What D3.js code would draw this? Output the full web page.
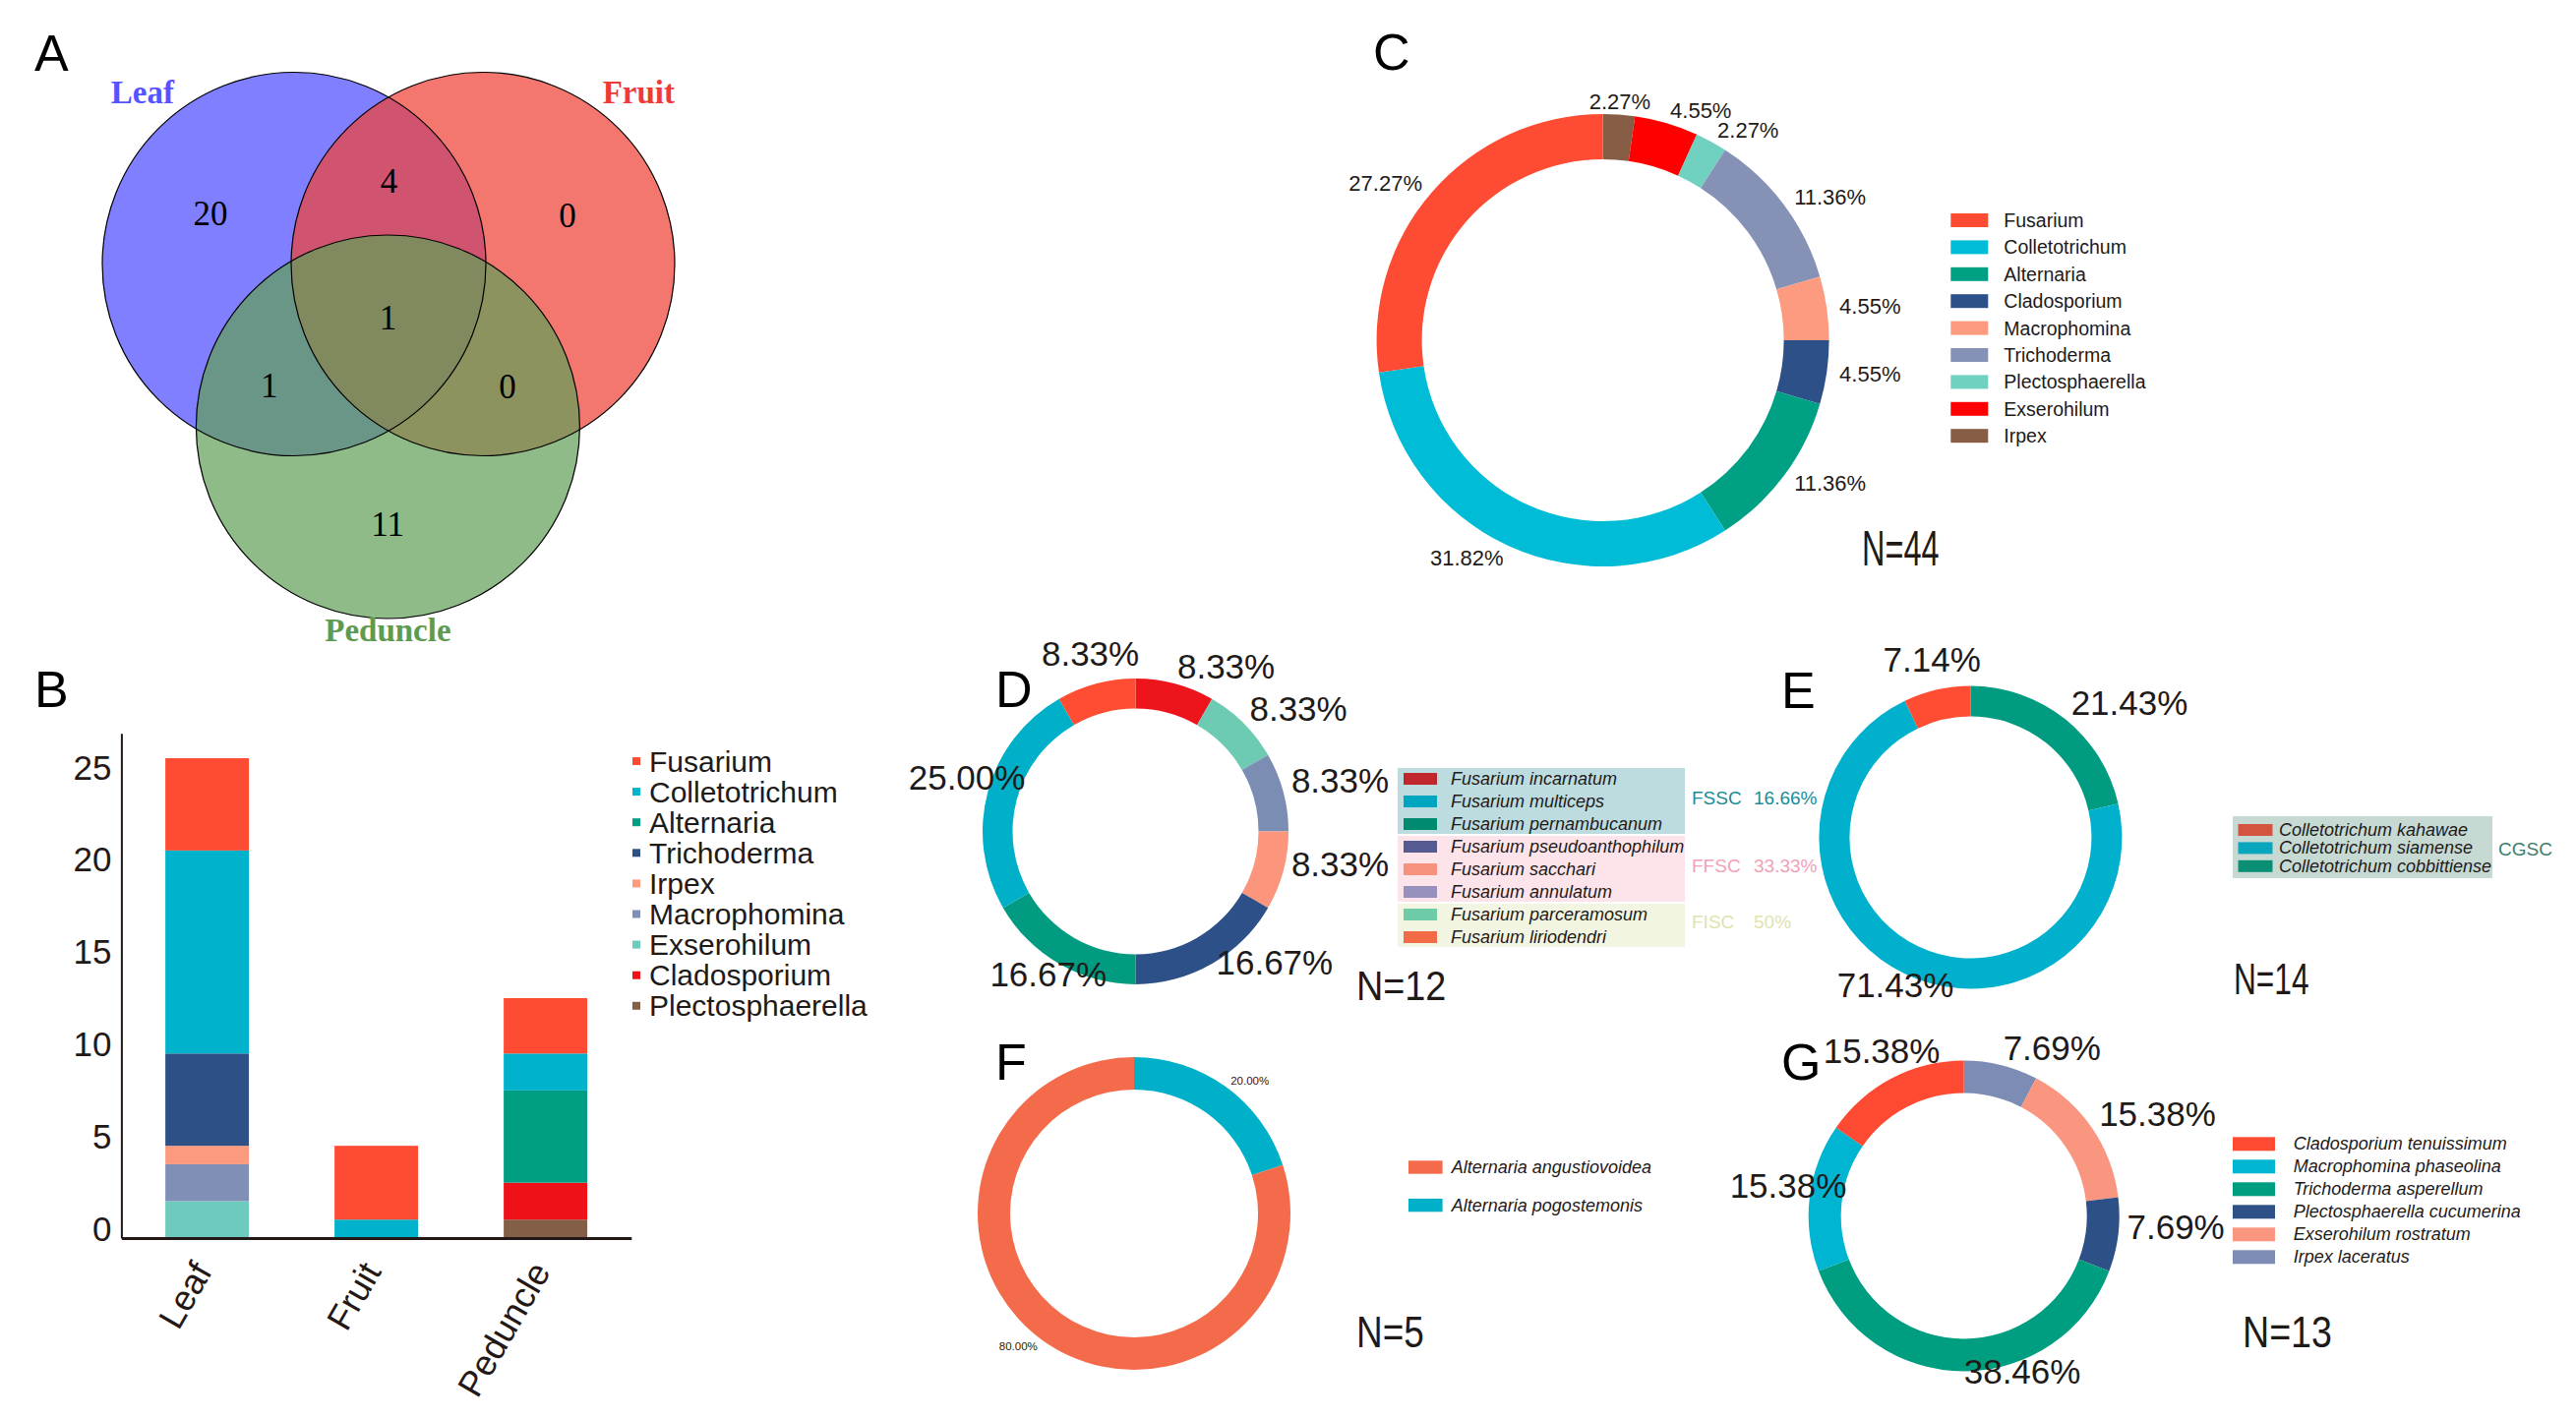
<!DOCTYPE html>
<html><head><meta charset="utf-8">
<script src="https://cdn.jsdelivr.net/npm/d3@7"></script>
<style>
html,body{margin:0;padding:0;background:#fff;}
svg{display:block;}
text{font-family:"Liberation Sans",Arial,Helvetica,sans-serif;fill:#1e1a18;}
</style></head><body>
<svg id="chart" width="2619" height="1443"></svg>
<script>
// ======================= DATA =======================
// Panel A – Venn diagram
const vennSets = ["Leaf", "Fruit", "Peduncle"];
const vennRegions = [["Leaf"], ["Fruit"], ["Peduncle"], ["Leaf","Fruit"], ["Leaf","Peduncle"], ["Fruit","Peduncle"], ["Leaf","Fruit","Peduncle"]];
const vennCounts = [20, 0, 11, 4, 1, 0, 1];

// Panel B – stacked bars (counts per tissue: Leaf, Fruit, Peduncle)
const tissues = ["Leaf", "Fruit", "Peduncle"];
const generaB = ["Fusarium","Colletotrichum","Alternaria","Trichoderma","Irpex","Macrophomina","Exserohilum","Cladosporium","Plectosphaerella"];
const fusariumCounts        = [5, 4, 3];
const colletotrichumCounts  = [11, 1, 2];
const alternariaCounts      = [0, 0, 5];
const trichodermaCounts     = [5, 0, 0];
const irpexCounts           = [1, 0, 0];
const macrophominaCounts    = [2, 0, 0];
const exserohilumCounts     = [2, 0, 0];
const cladosporiumCounts    = [0, 0, 2];
const plectosphaerellaCounts= [0, 0, 1];
const yTicksB = [0, 5, 10, 15, 20, 25];

// Panel C – all genera (ring order, clockwise from top)
const ringC = ["Irpex","Exserohilum","Plectosphaerella","Trichoderma","Macrophomina","Cladosporium","Alternaria","Colletotrichum","Fusarium"];
const countsC = [1, 2, 1, 5, 2, 2, 5, 14, 12];
const legendC = ["Fusarium","Colletotrichum","Alternaria","Cladosporium","Macrophomina","Trichoderma","Plectosphaerella","Exserohilum","Irpex"];

// Panel D – Fusarium species
const ringD = ["Fusarium incarnatum","Fusarium parceramosum","Fusarium annulatum","Fusarium sacchari","Fusarium pseudoanthophilum","Fusarium pernambucanum","Fusarium multiceps","Fusarium liriodendri"];
const countsD = [1, 1, 1, 1, 2, 2, 3, 1];
const legendD = ["Fusarium incarnatum","Fusarium multiceps","Fusarium pernambucanum","Fusarium pseudoanthophilum","Fusarium sacchari","Fusarium annulatum","Fusarium parceramosum","Fusarium liriodendri"];
const complexesD = ["FSSC","FFSC","FISC"];
const complexPctD = ["16.66%","33.33%","50%"];
const complexRowsD = [[0,1,2],[3,4,5],[6,7]];

// Panel E – Colletotrichum species
const ringE = ["Colletotrichum cobbittiense","Colletotrichum siamense","Colletotrichum kahawae"];
const countsE = [3, 10, 1];
const legendE = ["Colletotrichum kahawae","Colletotrichum siamense","Colletotrichum cobbittiense"];
const complexE = "CGSC";

// Panel F – Alternaria species
const ringF = ["Alternaria pogostemonis","Alternaria angustiovoidea"];
const countsF = [1, 4];
const legendF = ["Alternaria angustiovoidea","Alternaria pogostemonis"];

// Panel G – other species
const ringG = ["Irpex laceratus","Exserohilum rostratum","Plectosphaerella cucumerina","Trichoderma asperellum","Macrophomina phaseolina","Cladosporium tenuissimum"];
const countsG = [1, 2, 1, 5, 2, 2];
const legendG = ["Cladosporium tenuissimum","Macrophomina phaseolina","Trichoderma asperellum","Plectosphaerella cucumerina","Exserohilum rostratum","Irpex laceratus"];

// ======================= STYLES =======================
const paletteB = ["#fe4b33","#00b2cb","#009e82","#2d5086","#fc9a80","#7f8fb5","#6ccbbc","#ee1218","#845f48"];
const paletteC = ["#fe4b33","#00bcd6","#00a085","#2e5089","#fc9b80","#8592b6","#70d1c0","#ff0000","#875d45"];
const ringColorD = {"Fusarium incarnatum":"#ee141c","Fusarium parceramosum":"#6dcbb4","Fusarium annulatum":"#7c8db4","Fusarium sacchari":"#fb967c","Fusarium pseudoanthophilum":"#2c5087","Fusarium pernambucanum":"#009b80","Fusarium multiceps":"#00b0c8","Fusarium liriodendri":"#ff4d33"};
const legendColorD = ["#c0272d","#00a6c0","#008b70","#555b90","#f7937c","#9890bd","#6ecba7","#f26a46"];
const complexFillD = ["#bddcdf","#fde4ea","#f2f5e2"];
const complexTextD = ["#1a8c98","#f4a0b6","#dfe3ad"];
const ringColorE = {"Colletotrichum kahawae":"#ff4d33","Colletotrichum siamense":"#00b0cc","Colletotrichum cobbittiense":"#009b80"};
const legendColorE = ["#d4553f","#0aa6bd","#0b8f74"];
const colorF = {"Alternaria angustiovoidea":"#f36b4a","Alternaria pogostemonis":"#00b0c8"};
const colorG = {"Cladosporium tenuissimum":"#fe4a33","Macrophomina phaseolina":"#00b5d1","Trichoderma asperellum":"#009e80","Plectosphaerella cucumerina":"#2d5087","Exserohilum rostratum":"#fa9580","Irpex laceratus":"#7c8cb4"};

const svg = d3.select("#chart");
svg.append("rect").attr("width",2619).attr("height",1443).attr("fill","#fff");

function panelLetter(t, x, y){
  svg.append("text").attr("x",x).attr("y",y).attr("font-size",52).text(t).style("fill","#000");
}

// ======================= A: VENN =======================
(function(){
  const R = 195;
  const circles = [{cx:299, cy:268.5},{cx:491, cy:268.5},{cx:394.4, cy:434}];
  const fills = ["#0000ff","rgb(240,66,55)","rgb(97,159,87)"];
  const ops = [0.5, 0.72, 0.71];
  const g = svg.append("g");
  g.selectAll("circle.f").data(circles).join("circle")
    .attr("cx",d=>d.cx).attr("cy",d=>d.cy).attr("r",R)
    .attr("fill",(d,i)=>fills[i]).attr("fill-opacity",(d,i)=>ops[i]);
  g.selectAll("circle.s").data(circles).join("circle")
    .attr("cx",d=>d.cx).attr("cy",d=>d.cy).attr("r",R)
    .attr("fill","none").attr("stroke","#000").attr("stroke-width",1.2);
  // region label = blend of centroid and pole of inaccessibility (grid sampling)
  const acc = vennRegions.map(()=>({x:0,y:0,n:0,best:-1,bx:0,by:0}));
  for(let x=90;x<=700;x+=2){
    for(let y=60;y<=640;y+=2){
      const d = circles.map(c=>Math.hypot(x-c.cx,y-c.cy));
      const m = d.map(v=>v<=R);
      if(!m.some(Boolean)) continue;
      const key = vennSets.filter((s,i)=>m[i]).join("&");
      const idx = vennRegions.findIndex(r=>r.join("&")===key);
      const a = acc[idx];
      a.x+=x; a.y+=y; a.n++;
      const clear = d3.min(d, v=>Math.abs(v-R));
      if(clear>a.best){a.best=clear; a.bx=x; a.by=y;}
    }
  }
  const lx = i=>0.5*(acc[i].x/acc[i].n)+0.5*acc[i].bx;
  const ly = i=>0.5*(acc[i].y/acc[i].n)+0.5*acc[i].by;
  g.selectAll("text.n").data(vennCounts).join("text")
    .attr("x",(d,i)=>lx(i)).attr("y",(d,i)=>ly(i))
    .attr("text-anchor","middle").attr("dominant-baseline","central")
    .style("font-family","'Liberation Serif','Times New Roman',serif").attr("font-size",35)
    .style("fill","#000").text(d=>d);
  const labelCols = ["#5555ff","#ee3b36","#5e9b4f"];
  const lp = [
    {x:circles[0].cx-122, y:circles[0].cy-R+31, a:"end"},
    {x:circles[1].cx+R, y:circles[1].cy-R+31, a:"end"},
    {x:circles[2].cx, y:circles[2].cy+R+23, a:"middle"}];
  g.selectAll("text.l").data(vennSets).join("text")
    .attr("x",(d,i)=>lp[i].x).attr("y",(d,i)=>lp[i].y).attr("text-anchor",(d,i)=>lp[i].a)
    .style("font-family","'Liberation Serif','Times New Roman',serif").style("font-weight","bold")
    .attr("font-size",33).style("fill",(d,i)=>labelCols[i]).text(d=>d);
  panelLetter("A", 35, 72);
})();

// ======================= B: STACKED BARS =======================
(function(){
  const countsB = [fusariumCounts,colletotrichumCounts,alternariaCounts,trichodermaCounts,irpexCounts,macrophominaCounts,exserohilumCounts,cladosporiumCounts,plectosphaerellaCounts];
  const table = tissues.map((t,i)=>{const o={tissue:t}; generaB.forEach((gn,j)=>o[gn]=countsB[j][i]); return o;});
  const color = d3.scaleOrdinal().domain(generaB).range(paletteB);
  const x = d3.scaleBand().domain(tissues).range([123.4,641.8]).paddingInner(0.506).paddingOuter(0.26);
  const y = d3.scaleLinear().domain([0,27.35]).range([1259,745.7]);
  const series = d3.stack().keys(generaB.slice().reverse())(table);
  const g = svg.append("g");
  g.selectAll("g.s").data(series).join("g").attr("fill",d=>color(d.key))
    .selectAll("rect").data(d=>d).join("rect")
    .attr("x",d=>x(d.data.tissue)).attr("width",x.bandwidth())
    .attr("y",d=>y(d[1])).attr("height",d=>y(d[0])-y(d[1]));
  const ya = g.append("g").attr("transform","translate(123.4,0)")
    .call(d3.axisLeft(y).tickValues(yTicksB).tickSize(0).tickSizeOuter(0).tickPadding(10));
  ya.select(".domain").attr("stroke","#231815").attr("stroke-width",2);
  ya.selectAll("text").attr("font-size",35).attr("transform","translate(0,-9)")
    .style("font-family","'Liberation Sans',Arial,sans-serif").style("fill","#231815");
  const xa = g.append("g").attr("transform","translate(0,1259)")
    .call(d3.axisBottom(x).tickSize(0).tickSizeOuter(0));
  xa.select(".domain").attr("stroke","#231815").attr("stroke-width",3);
  xa.selectAll("text").attr("font-size",36).attr("text-anchor","end").attr("dy",0).attr("y",0)
    .attr("transform","translate(6,34) rotate(-60)")
    .style("font-family","'Liberation Sans',Arial,sans-serif").style("fill","#231815");
  // legend
  const lg = g.append("g");
  const rows = lg.selectAll("g").data(generaB).join("g").attr("transform",(d,i)=>`translate(643,${774+i*31.1})`);
  rows.append("rect").attr("x",0).attr("y",-4).attr("width",8).attr("height",8).attr("fill",d=>color(d));
  rows.append("text").attr("x",17).attr("y",0).attr("dominant-baseline","central").attr("font-size",30).text(d=>d);
  panelLetter("B", 35, 719);
})();

// ======================= DONUT HELPER =======================
function donut(cfg){
  const g = svg.append("g").attr("transform",`translate(${cfg.cx},${cfg.cy})`);
  const data = cfg.names.map((n,i)=>({name:n, v:cfg.counts[i]}));
  const total = d3.sum(cfg.counts);
  const arcs = d3.pie().sort(null).value(d=>d.v)(data);
  const arc = d3.arc().innerRadius(cfg.r).outerRadius(cfg.R);
  g.selectAll("path").data(arcs).join("path").attr("d",arc).attr("fill",d=>cfg.color(d.data.name));
  const pos = arcs.map(a=>{
    const mid=(a.startAngle+a.endAngle)/2, s=Math.sin(mid), c=Math.cos(mid);
    let anchor, rad;
    if(c>0.99){anchor="middle"; rad=cfg.R+cfg.gap;}
    else if(s>-1e-6){anchor="start"; rad=cfg.R+cfg.gap;}
    else {anchor=cfg.leftAnchor; rad = anchor==="middle"? cfg.R+cfg.midGap : cfg.R+cfg.gap;}
    return {x:rad*s, y:-rad*c+cfg.labelDy, anchor};
  });
  g.selectAll("text.p").data(arcs).join("text")
    .attr("x",(d,i)=>pos[i].x).attr("y",(d,i)=>pos[i].y).attr("text-anchor",(d,i)=>pos[i].anchor)
    .attr("dominant-baseline","central").attr("font-size",cfg.fontSize)
    .text(d=>(d.data.v/total*100).toFixed(2)+"%");
  // N label
  svg.append("text").attr("transform",`translate(${cfg.nx},${cfg.ny}) scale(${cfg.nsx},1)`)
    .attr("dominant-baseline","central").attr("font-size",cfg.nSize).text("N="+total);
}
function legend(cfg){
  const g = svg.append("g");
  const rows = g.selectAll("g").data(cfg.names).join("g").attr("transform",(d,i)=>`translate(${cfg.x},${cfg.y0+i*cfg.step})`);
  rows.append("rect").attr("x",0).attr("y",-cfg.h/2).attr("width",cfg.w).attr("height",cfg.h).attr("fill",(d,i)=>cfg.color(d,i));
  rows.append("text").attr("x",cfg.tx).attr("y",0).attr("dominant-baseline","central").attr("font-size",cfg.fs)
    .style("font-style",cfg.italic?"italic":"normal").text(d=>d);
}

// ======================= C =======================
(function(){
  const color = d3.scaleOrdinal().domain(legendC).range(paletteC);
  donut({cx:1629.6, cy:346, R:230, r:184, names:ringC, counts:countsC, color,
    gap:13, midGap:22, leftAnchor:"end", labelDy:0, fontSize:22,
    nx:1893, ny:558, nSize:50, nsx:0.65});
  legend({names:legendC, x:1983.3, y0:224, step:27.4, w:38, h:14, tx:54, fs:19.5, color:d=>color(d)});
  panelLetter("C", 1396, 71);
})();

// ======================= D =======================
(function(){
  donut({cx:1154.5, cy:845.4, R:155.5, r:125, names:ringD, counts:countsD, color:n=>ringColorD[n],
    gap:8.5, midGap:22, leftAnchor:"middle", labelDy:-9, fontSize:35,
    nx:1379, ny:1002.6, nSize:42, nsx:0.9});
  const y0=792, step=23;
  const gb = svg.append("g");
  gb.selectAll("rect").data(complexRowsD).join("rect")
    .attr("x",1421).attr("width",292)
    .attr("y",d=>y0+d[0]*step-11).attr("height",d=>(d[d.length-1]-d[0])*step+21)
    .attr("fill",(d,i)=>complexFillD[i]);
  gb.selectAll("text.c").data(complexesD).join("text")
    .attr("x",1720).attr("y",(d,i)=>y0+d3.mean(complexRowsD[i])*step-4).attr("dominant-baseline","central")
    .attr("font-size",19).style("fill",(d,i)=>complexTextD[i]).text(d=>d);
  gb.selectAll("text.p").data(complexPctD).join("text")
    .attr("x",1783).attr("y",(d,i)=>y0+d3.mean(complexRowsD[i])*step-4).attr("dominant-baseline","central")
    .attr("font-size",19).style("fill",(d,i)=>complexTextD[i]).text(d=>d);
  legend({names:legendD, x:1427, y0, step, w:34, h:12, tx:48, fs:18, italic:true, color:(d,i)=>legendColorD[i]});
  panelLetter("D", 1012, 719);
})();

// ======================= E =======================
(function(){
  donut({cx:2003.4, cy:851.5, R:154, r:123, names:ringE, counts:countsE, color:n=>ringColorE[n],
    gap:10, midGap:22, leftAnchor:"middle", labelDy:-9, fontSize:35,
    nx:2271, ny:995.4, nSize:44, nsx:0.72});
  svg.append("rect").attr("x",2270).attr("y",830).attr("width",264).attr("height",63).attr("fill","#c6d9d3");
  legend({names:legendE, x:2275.5, y0:844, step:18.4, w:35, h:12, tx:41.5, fs:18, italic:true, color:(d,i)=>legendColorE[i]});
  svg.append("text").attr("x",2540).attr("y",863).attr("dominant-baseline","central").attr("font-size",19)
    .style("fill","#3b7d6c").text(complexE);
  panelLetter("E", 1811, 720);
})();

// ======================= F =======================
(function(){
  donut({cx:1153, cy:1234, R:159, r:126, names:ringF, counts:countsF, color:n=>colorF[n],
    gap:8, midGap:22, leftAnchor:"end", labelDy:0, fontSize:11.5,
    nx:1379, ny:1355, nSize:44, nsx:0.84});
  legend({names:legendF, x:1432, y0:1187, step:38.6, w:34.6, h:13.4, tx:43.8, fs:18, italic:true, color:d=>colorF[d]});
  panelLetter("F", 1012, 1098);
})();

// ======================= G =======================
(function(){
  donut({cx:1996.7, cy:1236.5, R:158, r:125, names:ringG, counts:countsG, color:n=>colorG[n],
    gap:9, midGap:22, leftAnchor:"middle", labelDy:-9, fontSize:35,
    nx:2280, ny:1355, nSize:44, nsx:0.855});
  legend({names:legendG, x:2270, y0:1163.3, step:23, w:43, h:14, tx:61.7, fs:18, italic:true, color:d=>colorG[d]});
  panelLetter("G", 1811, 1098);
})();
</script>
</body></html>
